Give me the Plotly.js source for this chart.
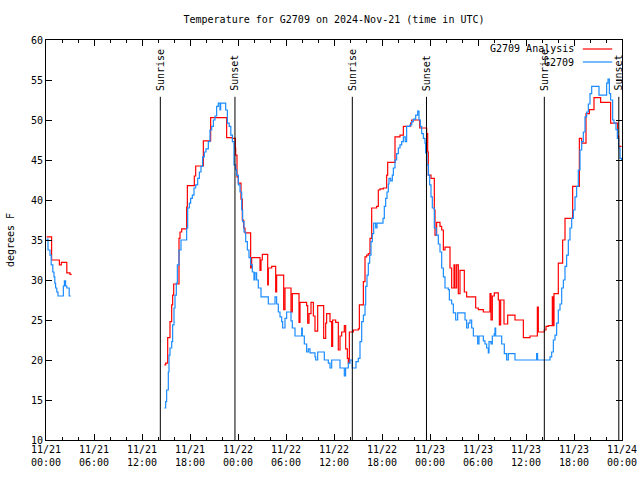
<!DOCTYPE html>
<html>
<head>
<meta charset="utf-8">
<script src="https://cdn.plot.ly/plotly-3.0.1.min.js"></script>
<style>html,body{margin:0;padding:0;background:#fff;}#chart{width:640px;height:480px;}</style>
</head>
<body>
<div id="chart"></div>
<script>
// Hours after 2024-11-21 00:00 UTC
var obsHours = [0.08,0.25,0.5,0.65,0.85,1.0,1.1,1.2,1.35,1.5,2.17,2.3,2.45,2.6,2.9,3.1,3.2,
14.79,14.96,15.08,15.29,15.375,15.5,15.71,15.83,16.0,16.125,16.29,16.42,16.625,16.875,17.58,17.71,17.92,18.08,18.29,18.5,18.71,18.96,19.17,19.375,19.58,19.79,20.0,20.29,20.5,20.71,20.92,21.125,21.33,21.54,21.75,21.83,22.46,22.67,22.9,23.1,23.3,23.5,23.71,23.83,24.04,24.25,24.46,24.58,24.75,24.96,25.17,25.375,25.58,25.79,26.0,26.125,26.33,26.54,26.875,27.79,28.625,28.83,29.04,29.25,29.46,29.58,29.875,30.08,30.625,30.79,31.125,31.96,32.04,32.29,32.58,32.79,33.0,33.625,33.71,33.96,34.79,35.29,35.5,35.71,36.75,37.29,37.45,37.79,38.0,38.29,38.75,39.04,39.25,39.46,39.67,39.875,39.96,40.125,40.29,40.46,40.625,40.79,40.96,41.21,41.375,42.125,42.29,42.46,42.625,42.79,42.875,43.08,43.29,43.42,43.625,43.83,44.04,44.25,44.46,44.67,44.9,45.08,45.5,45.71,45.92,46.21,46.46,46.625,46.79,46.96,47.17,47.375,47.46,47.625,47.79,47.96,48.125,48.29,48.54,48.79,49.04,49.25,49.46,49.67,49.875,50.29,50.42,50.71,50.92,51.21,51.46,52.375,52.58,52.79,53.0,53.21,53.42,53.96,54.125,54.67,54.875,55.08,55.29,55.375,55.625,55.79,56.04,56.125,56.21,56.96,57.29,57.58,57.79,58.625,61.33,61.45,63.0,63.21,63.42,63.625,63.83,64.04,64.25,64.46,64.67,64.875,65.08,65.29,65.5,65.71,65.92,66.125,66.33,66.54,66.75,66.96,67.17,67.375,67.58,67.79,68.0,68.21,69.125,70.08,70.25,70.42,70.58,70.83,71.0,71.25,71.42,71.58,71.75,71.95];
var obsTemps = [35.1,33.75,33.1,31.9,31.0,30.4,29.6,29.0,28.5,28.0,29.25,29.9,29.25,29.0,28.0,28.0,null,
14.0,14.8,16.25,18.5,20.6,21.5,22.3,24.4,26.5,28.1,29.6,31.9,33.75,35.0,36.5,39.0,39.6,40.2,40.6,41.5,41.9,42.7,43.5,44.2,45.4,46.0,46.4,47.3,48.75,49.2,50.0,50.5,51.7,52.1,51.25,52.1,51.25,49.6,49.2,48.1,47.3,44.4,43.8,43.1,41.9,41.0,38.75,37.3,36.0,34.8,33.75,32.8,31.9,31.0,30.0,30.9,30.0,29.0,27.9,27.0,27.9,27.0,26.0,25.4,24.8,24.0,25.2,26.0,24.9,24.0,23.0,24.0,23.0,22.0,21.0,21.4,20.9,20.4,20.0,21.0,20.0,19.6,19.0,20.0,19.0,18.0,19.0,19.6,20.0,19.0,19.8,20.2,22.3,24.8,25.6,26.9,29.2,30.6,32.1,33.1,34.8,35.8,37.1,36.5,37.1,37.7,39.2,40.2,41.0,42.0,42.7,42.4,43.1,44.0,45.0,45.8,46.5,46.9,47.3,47.9,47.3,49.2,49.4,49.8,50.1,50.6,51.1,50.0,49.2,48.3,47.7,47.1,45.9,44.4,43.1,41.9,40.4,39.0,36.5,35.6,34.5,33.5,31.5,30.4,29.0,28.8,27.5,27.0,25.9,25.0,25.9,25.0,24.0,24.6,25.0,24.0,23.0,22.0,23.0,22.4,22.0,21.5,20.9,22.3,22.0,23.0,23.3,24.0,23.0,22.0,20.8,20.0,20.8,20.0,20.8,20.0,20.4,21.0,22.5,23.1,24.6,26.25,27.0,29.0,30.0,31.7,33.1,35.0,36.5,37.7,38.75,40.4,41.7,43.75,46.25,47.3,48.5,50.4,51.0,52.0,53.3,54.2,53.1,54.6,55.1,53.3,52.5,50.0,49.6,48.8,47.7,46.5,45.2,45.0];

var anaHours = [0.08,0.7,1.67,1.92,2.6,3.0,3.2,3.3,
14.79,14.96,15.21,15.5,15.71,15.83,15.96,16.625,16.75,16.96,17.58,17.67,18.54,18.71,19.67,20.58,22.58,23.29,23.67,23.71,23.875,24.04,24.375,24.54,24.71,24.875,25.58,25.71,26.75,26.875,27.04,27.71,27.79,28.21,28.71,28.83,29.71,29.875,30.625,30.79,31.625,31.75,32.58,32.71,32.875,33.125,33.42,33.625,33.96,34.71,34.96,35.08,35.5,35.71,35.83,36.21,36.54,36.75,36.96,37.29,37.46,37.67,37.79,37.92,38.42,39.04,39.17,39.67,39.875,40.08,40.29,40.5,40.71,41.33,41.54,41.75,42.17,42.58,42.71,43.625,44.25,44.67,45.58,45.71,46.71,47.58,47.71,47.79,48.125,48.54,48.625,48.83,49.25,49.46,49.67,49.875,50.5,50.71,51.0,51.125,51.33,51.54,51.75,52.29,52.58,53.71,54.04,54.67,55.5,55.625,55.79,56.04,56.54,56.67,56.83,57.25,57.71,58.625,59.67,60.5,61.42,61.54,62.29,62.5,62.79,63.29,63.42,63.5,64.04,64.58,64.875,65.83,66.67,66.96,67.5,67.92,68.5,69.33,70.58,71.46,71.58,71.95];
var anaTemps = [35.4,32.5,31.9,32.2,30.9,30.7,30.7,null,
19.4,19.6,22.8,24.8,26.9,28.1,29.5,35.2,36.0,36.4,39.1,41.8,43.0,44.25,47.4,50.3,47.8,47.7,46.5,45.6,42.9,42.1,40.1,37.5,36.5,35.9,31.5,32.8,31.2,32.5,33.2,29.4,31.5,31.7,28.5,30.6,26.3,29.0,26.0,28.3,24.7,27.2,26.8,24.6,25.8,27.2,25.5,23.6,26.8,22.7,24.6,25.8,24.8,21.7,25.0,24.7,21.25,23.0,23.5,24.3,21.4,20.2,19.6,23.5,23.75,23.9,26.9,29.8,32.9,33.1,33.3,35.2,39.0,39.2,41.25,41.4,41.5,43.1,44.7,47.9,48.1,49.2,49.6,50.0,49.0,48.3,46.0,43.1,42.7,38.75,35.6,37.2,36.7,36.25,33.75,34.1,31.5,29.0,31.9,29.0,31.9,28.3,31.2,28.5,27.9,26.5,26.3,26.0,28.3,25.0,28.0,28.4,27.5,24.4,27.5,24.5,25.6,25.0,22.8,23.0,26.6,23.5,23.75,24.2,24.3,27.9,24.3,28.3,32.1,35.0,37.7,41.7,47.7,47.1,50.8,51.3,52.8,52.2,49.6,48.0,46.7,46.7];

var sunriseHours = [14.29, 38.29, 62.29];
var sunsetHours = [23.62, 47.56, 71.6];

var chartTitle = 'Temperature for G2709 on 2024-Nov-21 (time in UTC)';
var seriesNames = ['G2709 Analysis', 'G2709'];
var seriesColors = ['#ff0000', '#1a8cff'];

function toDate(h) {
  var d = new Date(Date.UTC(2024, 10, 21) + Math.round(h * 3600000));
  return d.toISOString().slice(0, 19).replace('T', ' ');
}

var FONT = {family: 'DejaVu Sans Mono, monospace', size: 10, color: '#000'};

var traces = [
  {x: anaHours.map(toDate), y: anaTemps, type: 'scatter', mode: 'lines', name: seriesNames[0],
   line: {color: seriesColors[0], width: 1.2, shape: 'hv'}, connectgaps: false},
  {x: obsHours.map(toDate), y: obsTemps, type: 'scatter', mode: 'lines', name: seriesNames[1],
   line: {color: seriesColors[1], width: 1.2, shape: 'hv'}, connectgaps: false}
];

var shapes = [];
var annotations = [];
function addEvent(h, label) {
  shapes.push({type: 'line', xref: 'x', yref: 'y', x0: toDate(h), x1: toDate(h), y0: 10, y1: 52.9,
               line: {color: '#000', width: 1}});
  annotations.push({xref: 'x', yref: 'y', x: toDate(h), y: 53.4, text: label, textangle: -90,
                    showarrow: false, xanchor: 'center', yanchor: 'bottom', font: FONT});
}
sunriseHours.forEach(function (h) { addEvent(h, 'Sunrise'); });
sunsetHours.forEach(function (h) { addEvent(h, 'Sunset'); });

// manual legend (text left of sample line)
var legY = [0.9775, 0.945];
for (var i = 0; i < 2; i++) {
  shapes.push({type: 'line', xref: 'paper', yref: 'paper', x0: 0.932, x1: 0.983, y0: legY[i], y1: legY[i],
               line: {color: seriesColors[i], width: 1.2}});
  annotations.push({xref: 'paper', yref: 'paper', x: 0.92, y: legY[i], text: seriesNames[i],
                    showarrow: false, xanchor: 'right', yanchor: 'middle', font: FONT});
}

var layout = {
  width: 640, height: 480,
  margin: {l: 46, r: 18, t: 40, b: 40, pad: 0},
  paper_bgcolor: '#fff', plot_bgcolor: '#fff',
  font: FONT,
  showlegend: false,
  title: {text: chartTitle, font: {family: FONT.family, size: 10, color: '#000'}, x: 0.5, xref: 'paper', y: 0.96, yref: 'container', yanchor: 'middle'},
  xaxis: {
    type: 'date', range: [toDate(0), toDate(72)],
    tick0: toDate(0), dtick: 6 * 3600000, tickformat: '%m/%d<br>%H:%M',
    ticks: 'inside', ticklen: 6, tickcolor: '#000', tickwidth: 1,
    minor: {dtick: 2 * 3600000, ticks: 'inside', ticklen: 3, tickcolor: '#000', showgrid: false},
    showline: true, linecolor: '#000', linewidth: 1, mirror: 'ticks',
    showgrid: false, zeroline: false, tickfont: FONT, tickangle: 0
  },
  yaxis: {
    range: [10, 60], dtick: 5, tick0: 10,
    ticks: 'inside', ticklen: 6, tickcolor: '#000', tickwidth: 1,
    showline: true, linecolor: '#000', linewidth: 1, mirror: 'ticks',
    showgrid: false, zeroline: false, tickfont: FONT,
    title: {text: 'degrees F', font: FONT, standoff: 14}
  },
  shapes: shapes,
  annotations: annotations
};

Plotly.newPlot('chart', traces, layout, {staticPlot: true, displayModeBar: false});
</script>
</body>
</html>
